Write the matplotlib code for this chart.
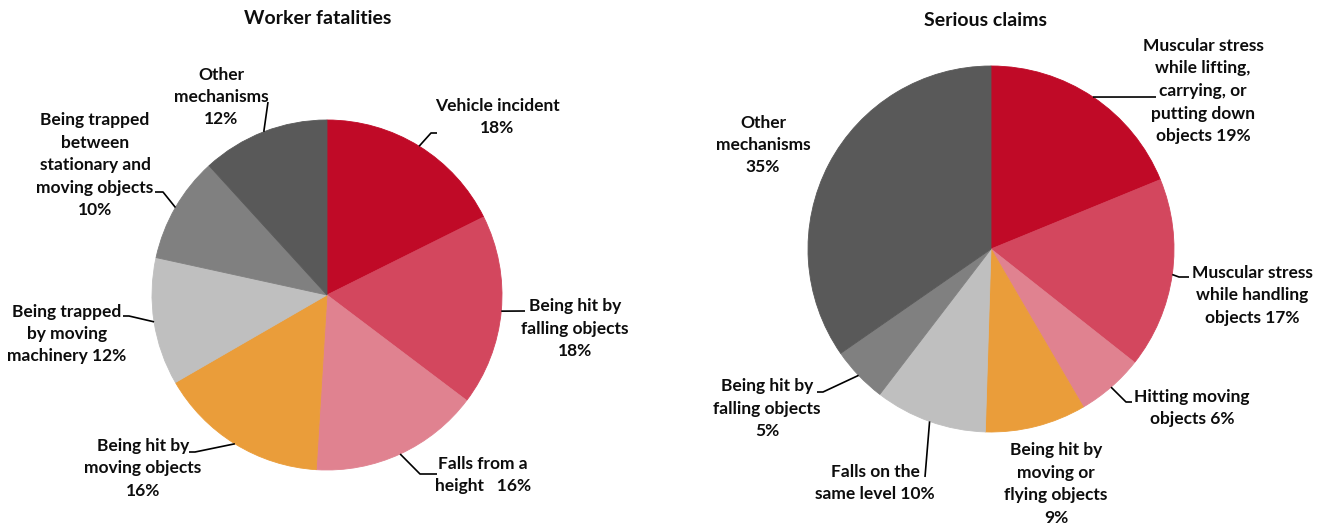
import numpy as np
import matplotlib.pyplot as plt

W, H = 1325, 524

plt.rcParams['font.family'] = ['Lato', 'DejaVu Sans']

colors = ["#C00A27", "#D3475E", "#E08290", "#EA9D3A", "#BFBFBF", "#808080", "#595959"]

## === Data === ##

fat_labels = ["Vehicle incident\n18%", "Being hit by\nfalling objects\n18%", "Falls from a\nheight   16%",
              "Being hit by\nmoving objects\n16%", "Being trapped\nby moving\nmachinery 12%",
              "Being trapped\nbetween\nstationary and\nmoving objects\n10%", "Other\nmechanisms\n12%"]
fat_values = [18, 18, 16, 16, 12, 10, 12]

claim_labels = ["Muscular stress\nwhile lifting,\ncarrying, or\nputting down\nobjects 19%",
                "Muscular stress\nwhile handling\nobjects 17%", "Hitting moving\nobjects 6%",
                "Being hit by\nmoving or\nflying objects\n9%", "Falls on the\nsame level 10%",
                "Being hit by\nfalling objects\n5%", "Other\nmechanisms\n35%"]
claim_values = [19, 17, 6, 9, 10, 5, 35]

## === Layout (pixel coords, y down) === ##

fat_center, fat_radius = (327, 295), 175
fat_text_pos = [(497, 117), (575, 329), (483, 475), (143, 468), (67, 334), (95, 165), (221, 97)]
fat_leaders = [[(431, 133), (437, 133)], [(525, 311)], [(420, 474), (437, 474)],
               [(195, 452), (189, 452)], [(129, 316), (123, 316)], [(163, 192), (155, 192)], [(268, 102)]]

claim_center, claim_radius = (991, 249), 183
claim_text_pos = [(1203, 91), (1252, 295), (1192, 408), (1056, 484), (875, 483), (767, 409), (763, 145)]
claim_leaders = [[(1156, 97)], [(1179, 277), (1189, 277)], [(1126, 402), (1132, 402)], None,
                 [(925, 477)], [(823, 392), (817, 392)], None]


def draw_pie(ax, values, labels, center, radius, text_pos, leaders, title, title_pos):
    cx, cy = center[0], H - center[1]
    wedges, _ = ax.pie(values, colors=colors, startangle=90, counterclock=False,
                       center=(cx, cy), radius=radius, frame=True,
                       wedgeprops=dict(linewidth=0.6))
    for w in wedges:
        w.set_edgecolor(w.get_facecolor())
        mid = np.deg2rad((w.theta1 + w.theta2) / 2)
        w.mid_pt = (cx + radius * np.cos(mid), cy + radius * np.sin(mid))

    for w, lab, pos, path in zip(wedges, labels, text_pos, leaders):
        ax.text(pos[0], H - pos[1], lab, ha="center", va="center", fontsize=12.5,
                fontweight="bold", linespacing=1.5, color="#0d0d0d")
        if path:
            xs = [w.mid_pt[0]] + [p[0] for p in path]
            ys = [w.mid_pt[1]] + [H - p[1] for p in path]
            ax.plot(xs, ys, color="black", lw=1.2, solid_capstyle="butt")

    ax.text(title_pos[0], H - title_pos[1], title, ha="center", va="center",
            fontsize=14, fontweight="bold", color="#0d0d0d")


fig = plt.figure(figsize=(W / 100, H / 100), dpi=100)
ax = fig.add_axes([0, 0, 1, 1])

draw_pie(ax, fat_values, fat_labels, fat_center, fat_radius, fat_text_pos, fat_leaders,
         "Worker fatalities", (318, 19))
draw_pie(ax, claim_values, claim_labels, claim_center, claim_radius, claim_text_pos, claim_leaders,
         "Serious claims", (986, 21))

ax.set_xlim(0, W)
ax.set_ylim(0, H)
ax.set_aspect("equal")
ax.axis("off")

fig.savefig("out.png", dpi=100, facecolor="white")
